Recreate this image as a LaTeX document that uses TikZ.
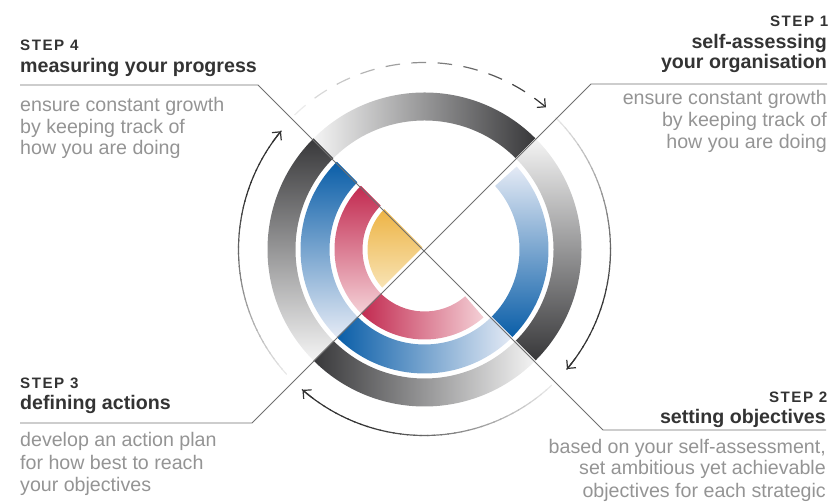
\documentclass[tikz,border=0pt]{standalone}
\usepackage{fontspec}
\setmainfont{Liberation Sans}
\newfontfamily\stepfont{Liberation Sans}[LetterSpace=10]
\usetikzlibrary{arrows.meta}
\definecolor{ringdark}{HTML}{38383A}
\definecolor{ringlight}{HTML}{F4F4F4}
\definecolor{bluedark}{HTML}{0A5EA8}
\definecolor{bluelight}{HTML}{E4EAF5}
\definecolor{reddark}{HTML}{C22A50}
\definecolor{redlight}{HTML}{F4D0D6}
\definecolor{yeldark}{HTML}{EDB445}
\definecolor{yellight}{HTML}{F8E3B4}
\definecolor{headcol}{HTML}{333333}
\definecolor{bodycol}{HTML}{949494}
\definecolor{guidecol}{HTML}{707070}
\definecolor{arrowcol}{HTML}{333333}
\tikzset{
  guide/.style={draw=guidecol, line width=0.9bp},
  steplabel/.style={font=\stepfont\bfseries\fontsize{15.2}{16}\selectfont, text=headcol, inner sep=0pt},
  titletext/.style={font=\bfseries\fontsize{19.7}{22}\selectfont, text=headcol, inner sep=0pt},
  bodytext/.style={font=\fontsize{19.7}{22}\selectfont, text=bodycol, inner sep=0pt},
  arrowline/.style={line width=1.2bp},
  barb/.style={-{Straight Barb[length=6bp,width=12bp]}},
}
\newcommand\ringseg[5]{\shade[#1] (#2:#4bp) arc[start angle=#2, end angle=#3, radius=#4bp] -- (#3:#5bp) arc[start angle=#3, end angle=#2, radius=#5bp] -- cycle;}
% faded clockwise arc with arrow tip: #1 faint angle, #2 tip angle, #3 radius
\newcommand\fadearc[3]{%
  \foreach \i in {1,...,40} {
    \pgfmathsetmacro\aa{#1+(#2-#1)*(\i-1)/40+0.2}
    \pgfmathsetmacro\ab{#1+(#2-#1)*\i/40-0.2}
    \pgfmathsetmacro\pp{min(100,8+125*\i/40)}
    \draw[arrowline, draw=arrowcol!\pp!white] (\aa:#3bp) arc[start angle=\aa, end angle=\ab, radius=#3bp];
  }
  \pgfmathsetmacro\ac{#2+4}
  \draw[arrowline, draw=arrowcol, barb] (\ac:#3bp) arc[start angle=\ac, end angle=#2, radius=#3bp];
}
\begin{document}
\begin{tikzpicture}[x=1bp, y=1bp]
\useasboundingbox (0,0) rectangle (832,502);
\coordinate (ctr) at (424.5,252.5);

\begin{scope}[shift={(ctr)}]
  % top quadrant
  \ringseg{left color=ringlight, right color=ringdark}{45}{135}{157}{129}
  % right quadrant
  \ringseg{top color=ringlight, bottom color=ringdark}{-45}{45}{157}{129}
  \ringseg{top color=bluelight, bottom color=bluedark}{-45}{42}{124}{95}
  % bottom quadrant
  \ringseg{left color=ringdark, right color=ringlight}{225}{315}{157}{129}
  \ringseg{left color=bluedark, right color=bluelight}{225}{315}{124}{95}
  \ringseg{left color=reddark, right color=redlight}{225}{311}{90}{62}
  % left quadrant
  \ringseg{top color=ringdark, bottom color=ringlight}{135}{225}{157}{129}
  \ringseg{top color=bluedark, bottom color=bluelight}{135}{225}{124}{95}
  \ringseg{top color=reddark, bottom color=redlight}{135}{225}{90}{62}
  \shade[top color=yeldark, bottom color=yellight] (135:3bp) -- (135:57bp) arc[start angle=135, end angle=222, radius=57bp] -- cycle;

  % arrows
  \fadearc{222}{140.5}{186}
  \fadearc{45}{-40}{186}
  \fadearc{-47}{-131}{186}
  % dashed top arrow
  \foreach \k in {0,...,9} {
    \pgfmathsetmacro\da{134-8*\k}
    \pgfmathsetmacro\db{\da-4.5}
    \pgfmathsetmacro\pp{10+90*\k/10}
    \draw[arrowline, draw=arrowcol!\pp!white] (\da:187bp) arc[start angle=\da, end angle=\db, radius=187bp];
  }
  \draw[arrowline, draw=arrowcol, barb] (54:187bp) arc[start angle=54, end angle=49.5, radius=187bp];
\end{scope}

% guide lines
\coordinate (u4a) at (20,417);
\coordinate (u4b) at (258,417);
\coordinate (u2a) at (603,72);
\coordinate (u2b) at (826,72);
\coordinate (u1a) at (827,418);
\coordinate (u1b) at (591,418);
\coordinate (u3a) at (252,79);
\coordinate (u3b) at (20,79);
\draw[guide] (u4a) -- (u4b) -- (u2a) -- (u2b);
\draw[guide] (u1a) -- (u1b) -- (u3a) -- (u3b);

% STEP 4
\node[steplabel, anchor=base west] (s4step) at (20,451) {STEP 4};
\node[titletext, anchor=base west] (s4title) at (20,429) {measuring your progress};
\node[bodytext, anchor=base west] (s4b1) at (20,390.3) {ensure constant growth};
\node[bodytext, anchor=base west] (s4b2) at (20,368.7) {by keeping track of};
\node[bodytext, anchor=base west] (s4b3) at (20,347) {how you are doing};

% STEP 1
\node[steplabel, anchor=base east] (s1step) at (828.5,475.5) {STEP 1};
\node[titletext, anchor=base east] (s1title1) at (827,453.7) {self-assessing};
\node[titletext, anchor=base east] (s1title2) at (827,433.7) {your organisation};
\node[bodytext, anchor=base east] (s1b1) at (827,397) {ensure constant growth};
\node[bodytext, anchor=base east] (s1b2) at (827,375) {by keeping track of};
\node[bodytext, anchor=base east] (s1b3) at (827,353) {how you are doing};

% STEP 3
\node[steplabel, anchor=base west] (s3step) at (20,113) {STEP 3};
\node[titletext, anchor=base west] (s3title) at (20,92) {defining actions};
\node[bodytext, anchor=base west] (s3b1) at (20,55) {develop an action plan};
\node[bodytext, anchor=base west] (s3b2) at (20,32) {for how best to reach};
\node[bodytext, anchor=base west] (s3b3) at (20,10.3) {your objectives};

% STEP 2
\node[steplabel, anchor=base east] (s2step) at (827.5,99.5) {STEP 2};
\node[titletext, anchor=base east] (s2title) at (826,78.5) {setting objectives};
\node[bodytext, anchor=base east] (s2b1) at (826,48) {based on your self-assessment,};
\node[bodytext, anchor=base east] (s2b2) at (826,27) {set ambitious yet achievable};
\node[bodytext, anchor=base east] (s2b3) at (826,4.7) {objectives for each strategic};
\end{tikzpicture}
\end{document}
